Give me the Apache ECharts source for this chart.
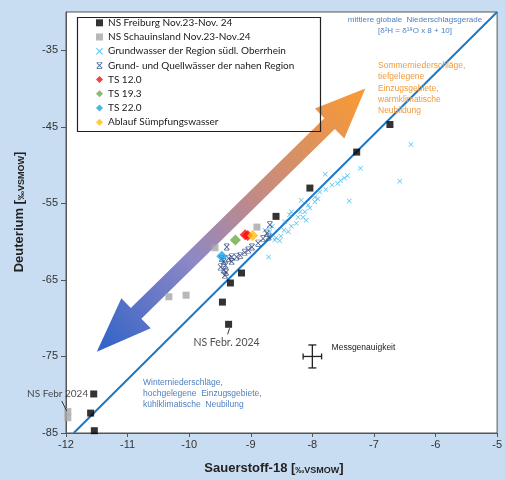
<!DOCTYPE html>
<html><head><meta charset="utf-8">
<script src="https://cdn.jsdelivr.net/npm/echarts@6/dist/echarts.min.js"></script>
<style>html,body{margin:0;padding:0;background:#c8ddf1;}#c{width:505px;height:480px;}</style>
</head><body><div id="c"></div>
<script>
const xTicks = [-12,-11,-10,-9,-8,-7,-6,-5];
const yTicks = [-85,-75,-65,-55,-45,-35];
const nsFreiburg = [[-6.74,-44.7],[-7.28,-48.3],[-8.04,-53.0],[-8.59,-56.7],[-9.15,-64.1],[-9.33,-65.4],[-9.46,-67.9],[-9.36,-70.8],[-11.55,-79.9],[-11.60,-82.4],[-11.54,-84.7]];
const nsSchauinsland = [[-8.90,-58.1],[-9.58,-60.8],[-10.33,-67.2],[-10.05,-67.0],[-11.97,-82.2],[-11.97,-83.0]];
const gwOberrhein = [[-6.40,-47.3],[-6.58,-52.1],[-7.22,-50.4],[-7.40,-54.7],[-7.43,-51.4],[-7.48,-51.7],[-7.54,-52.0],[-7.59,-52.4],[-7.68,-52.6],[-7.79,-51.2],[-7.78,-53.2],[-7.91,-54.4],[-7.96,-54.2],[-7.88,-53.5],[-8.18,-54.6],[-8.12,-56.1],[-8.20,-56.1],[-8.34,-56.1],[-8.37,-56.5],[-8.23,-56.8],[-8.15,-56.8],[-8.10,-57.2],[-8.26,-57.6],[-8.34,-58.0],[-8.45,-57.4],[-8.46,-58.5],[-8.39,-58.7],[-8.65,-58.0],[-8.69,-58.7],[-8.77,-58.5],[-8.71,-62.0],[-8.61,-59.8],[-8.53,-59.9],[-8.07,-55.2],[-7.96,-54.8],[-8.04,-55.6],[-8.59,-59.5],[-8.51,-59.3]];
const gwNahe = [[-9.39,-60.7],[-9.44,-62.6],[-9.41,-63.1],[-9.44,-63.7],[-9.31,-62.0],[-9.23,-62.0],[-9.17,-61.8],[-9.04,-61.1],[-8.98,-60.7],[-8.88,-60.2],[-8.80,-59.6],[-8.74,-58.9],[-8.71,-59.4],[-9.36,-62.2],[-9.47,-62.2],[-9.31,-62.6],[-9.49,-63.3],[-9.42,-64.4],[-8.69,-57.8],[-9.40,-64.0],[-9.10,-61.4]];
const ts120 = [[-9.09,-59.1],[-9.05,-59.2]];
const ts193 = [[-9.25,-59.8]];
const ts220 = [[-9.47,-61.9]];
const ablauf = [[-8.97,-59.2]];
const mwlX = [-11.875,-5];              // δ2H = δ18O x 8 + 10
const accuracy = [[-8.0,-75,0.15,1.5]];  // centre x, centre y, ±x, ±y
const arrowEnds = [[-11.50,-74.4],[-7.14,-40.0]];

const names = ['NS Freiburg Nov.23-Nov. 24','NS Schauinsland Nov.23-Nov.24','Grundwasser der Region südl. Oberrhein','Grund- und Quellwässer der nahen Region','TS 12.0','TS 19.3','TS 22.0','Ablauf Sümpfungswasser'];
const xPath = 'path://M0,1L1,0L5,4L9,0L10,1L6,5L10,9L9,10L5,6L1,10L0,9L4,5Z';
const xBarPath = 'path://M0,1.5L1,0.5L5,4.5L9,0.5L10,1.5L6,5.5L10,9.5L9,10.5L5,6.5L1,10.5L0,9.5L4,5.5Z M1,0L9,0L9,1L1,1Z M1,10L9,10L9,11L1,11Z';

const chart = echarts.init(document.getElementById('c'));
const freiburgData = nsFreiburg.map((p,i)=>{
  if (i===7) return {value:p,label:{show:true,position:'bottom',distance:9,offset:[-2,0],formatter:'NS Febr. 2024',fontFamily:'Lato',fontSize:10.5,color:'#222'}};
  if (i===8) return {value:p,label:{show:true,position:'left',distance:2,formatter:'NS Febr 2024',fontFamily:'Lato',fontSize:10,color:'#222'}};
  return p;
});
const option = {
  backgroundColor:'#c8ddf1',
  animation:false,
  grid:{left:66,right:5,top:12,bottom:47,show:true,backgroundColor:'#fff',borderColor:'#555',borderWidth:1},
  xAxis:{type:'value',min:-12,max:-5,interval:1,
    axisLine:{show:true,lineStyle:{color:'#555'}},
    axisTick:{show:true,length:4,inside:false,lineStyle:{color:'#555'},customValues:xTicks},
    axisLabel:{customValues:xTicks,fontFamily:'Liberation Sans',fontSize:11,color:'#333',margin:6},
    splitLine:{show:false}},
  yAxis:{type:'value',min:-85,max:-30,interval:10,
    axisLine:{show:true,lineStyle:{color:'#555'}},
    axisTick:{show:true,length:5,lineStyle:{color:'#555'},customValues:yTicks},
    axisLabel:{customValues:yTicks,fontFamily:'Liberation Sans',fontSize:11,color:'#333',margin:8},
    splitLine:{show:false}},
  legend:{data:names,orient:'vertical',left:96,top:17.3,padding:0,itemGap:3.2,itemWidth:7,itemHeight:7,
    textStyle:{fontFamily:'Lato',fontSize:10,color:'#1a1a1a',lineHeight:11}},
  series:[
    {type:'line',name:'MWL',data:mwlX.map(x=>[x,8*x+10]),symbol:'none',lineStyle:{color:'#1f78c4',width:2},z:1,silent:true},
    {type:'scatter',name:names[0],data:freiburgData,symbol:'rect',symbolSize:7,itemStyle:{color:'#000'},z:5},
    {type:'scatter',name:names[1],data:nsSchauinsland,symbol:'rect',symbolSize:7,itemStyle:{color:'#a6a6a6'},z:4},
    {type:'scatter',name:names[2],data:gwOberrhein,symbol:xPath,symbolSize:5,itemStyle:{color:'#2eb4ec'},z:3},
    {type:'scatter',name:names[3],data:gwNahe,symbol:xBarPath,symbolSize:[6,7],itemStyle:{color:'#25407a'},z:3},
    {type:'scatter',name:names[4],data:ts120,symbol:'diamond',symbolSize:11,itemStyle:{color:'#ff0d0d'},z:6},
    {type:'scatter',name:names[5],data:ts193,symbol:'diamond',symbolSize:11,itemStyle:{color:'#6cab44'},z:6},
    {type:'scatter',name:names[6],data:ts220,symbol:'diamond',symbolSize:11,itemStyle:{color:'#1ca3e6'},z:6},
    {type:'scatter',name:names[7],data:ablauf,symbol:'diamond',symbolSize:11,itemStyle:{color:'#ffbb12'},z:6},
    {type:'custom',name:'Messgenauigkeit',data:accuracy,z:6,
      renderItem:function(params,api){
        const x=api.value(0),y=api.value(1),dx=api.value(2),dy=api.value(3);
        const l=api.coord([x-dx,y]),r=api.coord([x+dx,y]),t=api.coord([x,y+dy]),b=api.coord([x,y-dy]);
        const st={stroke:'#222',lineWidth:1.3};
        return {type:'group',children:[
          {type:'line',shape:{x1:l[0],y1:l[1],x2:r[0],y2:r[1]},style:st},
          {type:'line',shape:{x1:t[0],y1:t[1],x2:b[0],y2:b[1]},style:st},
          {type:'line',shape:{x1:l[0],y1:l[1]-3,x2:l[0],y2:l[1]+3},style:st},
          {type:'line',shape:{x1:r[0],y1:r[1]-3,x2:r[0],y2:r[1]+3},style:st},
          {type:'line',shape:{x1:t[0]-4,y1:t[1],x2:t[0]+4,y2:t[1]},style:st},
          {type:'line',shape:{x1:b[0]-4,y1:b[1],x2:b[0]+4,y2:b[1]},style:st},
          {type:'text',x:r[0]+10,y:t[1]+3,style:{text:'Messgenauigkeit',fontFamily:'Liberation Sans',fontSize:8.5,fill:'#222',align:'left',verticalAlign:'middle'}}
        ]};
      }}
  ]
};
chart.setOption(option);

// annotations positioned from data coordinates
const A = chart.convertToPixel({gridIndex:0}, arrowEnds[0]);
const B = chart.convertToPixel({gridIndex:0}, arrowEnds[1]);
const len = Math.hypot(B[0]-A[0],B[1]-A[1]);
const u=[(B[0]-A[0])/len,(B[1]-A[1])/len], n=[-u[1],u[0]];
const hlA=55, hlB=50, hw=21, sw=7.5;
const P=(o,a,b)=>[o[0]+u[0]*a+n[0]*b,o[1]+u[1]*a+n[1]*b];
const arrowPts=[B,P(B,-hlB,hw),P(B,-hlB,sw),P(A,hlA,sw),P(A,hlA,hw),A,P(A,hlA,-hw),P(A,hlA,-sw),P(B,-hlB,-sw),P(B,-hlB,-hw)];

const f1 = chart.convertToPixel({gridIndex:0}, nsFreiburg[7]);
const f2 = chart.convertToPixel({gridIndex:0}, nsFreiburg[8]);
const blue='#4d7fc0', orange='#f29a3a';
chart.setOption({graphic:[
  {type:'polygon',shape:{points:arrowPts},z:2,style:{fill:new echarts.graphic.LinearGradient(0,1,1,0,[
    {offset:0,color:'#2f62c6'},{offset:0.35,color:'#8d88c6'},{offset:0.6,color:'#c58a82'},{offset:1,color:'#fb9a30'}])}},
  {type:'rect',left:75,top:15,shape:{width:243,height:114},style:{fill:null,stroke:'#222',lineWidth:1.2},z:10},
  {type:'line',shape:{x1:f1[0]+1,y1:f1[1]+4,x2:f1[0]-1,y2:f1[1]+10},style:{stroke:'#333',lineWidth:1},z:10},
  {type:'line',shape:{x1:f2[0]-32,y1:f2[1]+7,x2:f2[0]-27,y2:f2[1]+17},style:{stroke:'#333',lineWidth:1},z:10},
  {type:'text',x:415,y:20,z:10,style:{text:'mittlere globale  Niederschlagsgerade',fontFamily:'Liberation Sans',fontSize:8,fill:blue,align:'center',verticalAlign:'middle'}},
  {type:'text',x:415,y:31,z:10,style:{text:'[δ²H = δ¹⁸O x 8 + 10]',fontFamily:'Liberation Sans',fontSize:8,fill:blue,align:'center',verticalAlign:'middle'}},
  {type:'text',x:378,y:60,z:10,style:{text:'Sommerniederschläge,\ntiefgelegene\nEinzugsgebiete,\nwarmklimatische\nNeubildung',fontFamily:'Liberation Sans',fontSize:8.5,lineHeight:11.3,fill:orange,align:'left',verticalAlign:'top'}},
  {type:'text',x:143,y:377,z:10,style:{text:'Winterniederschläge,\nhochgelegene  Einzugsgebiete,\nkühlklimatische  Neubilung',fontFamily:'Liberation Sans',fontSize:8.5,lineHeight:11,fill:blue,align:'left',verticalAlign:'top'}},
  {type:'text',x:274,y:468,z:10,style:{text:'Sauerstoff-18 [{s|‰VSMOW}]',fontFamily:'Liberation Sans',fontSize:13,fontWeight:'bold',fill:'#222',align:'center',verticalAlign:'middle',
    rich:{s:{fontFamily:'Liberation Sans',fontSize:9,fontWeight:'bold',fill:'#222',padding:[5,0,0,0]}}}},
  {type:'text',x:19,y:212,rotation:Math.PI/2,z:10,style:{text:'Deuterium [{s|‰VSMOW}]',fontFamily:'Liberation Sans',fontSize:13,fontWeight:'bold',fill:'#222',align:'center',verticalAlign:'middle',
    rich:{s:{fontFamily:'Liberation Sans',fontSize:9,fontWeight:'bold',fill:'#222',padding:[5,0,0,0]}}}}
]});
</script></body></html>
